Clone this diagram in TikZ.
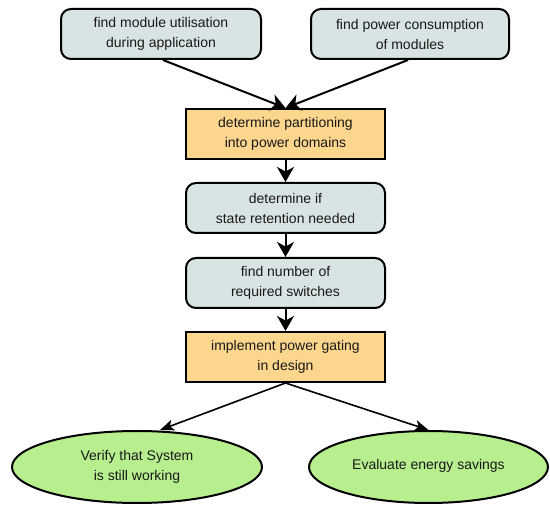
\documentclass[tikz,border=0pt]{standalone}
\usepackage{fontspec}
\setmainfont{Liberation Sans}
\usetikzlibrary{arrows.meta,shapes.geometric,calc}
\definecolor{stepfill}{RGB}{216,228,228}
\definecolor{keyfill}{RGB}{253,214,142}
\definecolor{endfill}{RGB}{183,238,142}
\tikzset{
  lbl/.style={font=\fontsize{14}{20}\selectfont, align=center, text=black!90},
  stepbox/.style={lbl, draw=black, line width=2pt, fill=stepfill, rounded corners=10pt,
    inner sep=0pt, minimum width=199pt, minimum height=50pt},
  keybox/.style={lbl, draw=black, line width=2pt, fill=keyfill,
    inner sep=0pt, minimum width=199pt, minimum height=50pt},
  endell/.style={lbl, ellipse, draw=black, line width=2pt, fill=endfill,
    inner sep=0pt, minimum height=72pt},
  flow/.style={line width=2pt, -{Stealth[length=15pt,width=17pt,inset=4.5pt]}},
  flowthin/.style={line width=1.6pt, -{Stealth[length=14pt,width=11pt,inset=3.5pt]}}
}
\begin{document}
\begin{tikzpicture}[x=1pt,y=-1pt]
\useasboundingbox (0,0) rectangle (550,505);
\node[stepbox, minimum width=200pt] (util) at (161,34) {find module utilisation\\during application};
\node[stepbox, minimum width=198pt] (power) at (410,34) {find power consumption\\of modules};
\node[keybox] (part) at (285.5,134) {determine partitioning\\into power domains};
\node[stepbox] (retain) at (285.5,208) {determine if\\state retention needed};
\node[stepbox] (switch) at (285.5,283) {find number of\\required switches};
\node[keybox] (impl) at (285.5,357) {implement power gating\\in design};
\node[endell, minimum width=250pt] (verify) at (137,467) {Verify that System\\is still working};
\node[endell, minimum width=239pt] (eval) at (428.5,467) {\raisebox{5pt}{Evaluate energy savings}};

\draw[flow] ($(util.south)+(2,0)$) -- ($(part.north)+(0,0)$);
\draw[flow] ($(power.south)+(-2,0)$) -- ($(part.north)+(0,0)$);
\draw[flow] (part) -- (retain);
\draw[flow] (retain) -- (switch);
\draw[flow] (switch) -- (impl);
\draw[flowthin] (impl.south) -- ($(verify.north)+(23,0)$);
\draw[flowthin] (impl.south) -- (eval.north);
\end{tikzpicture}
\end{document}
